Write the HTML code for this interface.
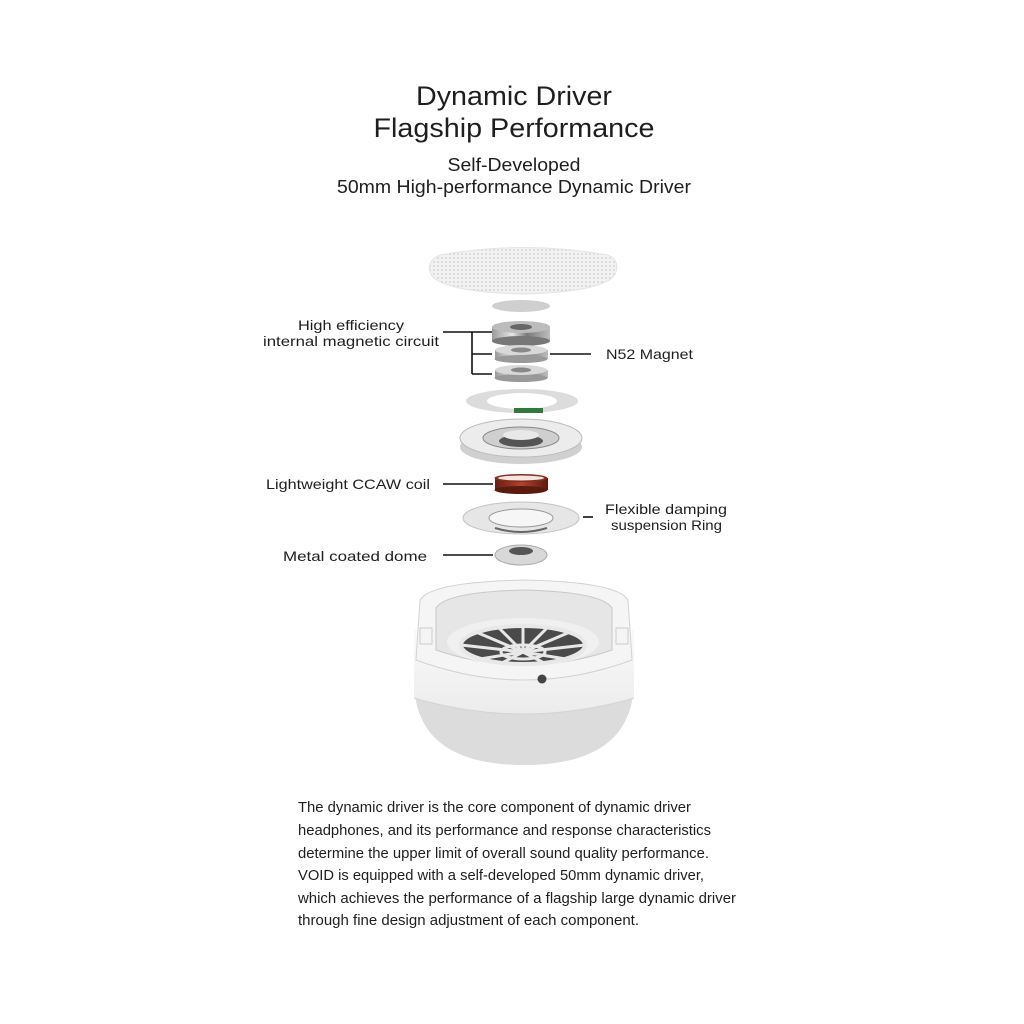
<!DOCTYPE html>
<html><head><meta charset="utf-8"><style>
html,body{margin:0;padding:0;background:#fff}
svg{display:block}
text{font-family:"Liberation Sans",sans-serif;fill:#1e1e1e}
</style></head><body>
<svg width="1024" height="1024" viewBox="0 0 1024 1024" xmlns="http://www.w3.org/2000/svg">
<defs>
<pattern id="dots" width="4" height="4" patternUnits="userSpaceOnUse"><rect width="4" height="4" fill="#f2f2f2"/><circle cx="2" cy="2" r="1" fill="#d6d6d6"/></pattern>
<linearGradient id="metal" x1="0" x2="1"><stop offset="0" stop-color="#9a9a9a"/><stop offset=".35" stop-color="#e6e6e6"/><stop offset=".6" stop-color="#7a7a7a"/><stop offset="1" stop-color="#bdbdbd"/></linearGradient>
<linearGradient id="red" x1="0" x2="1"><stop offset="0" stop-color="#6a1d12"/><stop offset=".5" stop-color="#b0432e"/><stop offset="1" stop-color="#5a1a10"/></linearGradient>
<linearGradient id="cup" x1="0" y1="0" x2="0" y2="1"><stop offset="0" stop-color="#fafafa"/><stop offset="1" stop-color="#ececec"/></linearGradient>
</defs>
<rect width="1024" height="1024" fill="#fff"/>

<text x="514" y="105" font-size="27" text-anchor="middle" textLength="196" lengthAdjust="spacingAndGlyphs">Dynamic Driver</text>
<text x="514" y="137" font-size="27" text-anchor="middle" textLength="281" lengthAdjust="spacingAndGlyphs">Flagship Performance</text>
<text x="514" y="171" font-size="18" text-anchor="middle" textLength="133" lengthAdjust="spacingAndGlyphs">Self-Developed</text>
<text x="514" y="193" font-size="18" text-anchor="middle" textLength="354" lengthAdjust="spacingAndGlyphs">50mm High-performance Dynamic Driver</text>

<!-- grille -->
<path d="M440 255 Q523 240 608 255 Q622 262 614 276 Q600 292 523 294 Q446 292 432 276 Q424 262 440 255Z" fill="url(#dots)" stroke="#e4e4e4"/>
<ellipse cx="521" cy="306" rx="29" ry="6" fill="#cfcfcf"/>
<!-- magnet 1 -->
<rect x="492" y="327" width="58" height="14" fill="url(#metal)"/>
<ellipse cx="521" cy="341" rx="29" ry="5" fill="#777"/>
<ellipse cx="521" cy="327" rx="29" ry="6" fill="#bcbcbc"/>
<ellipse cx="521" cy="327" rx="11" ry="3" fill="#666"/>
<!-- magnet 2 -->
<rect x="495" y="350" width="53" height="9" fill="url(#metal)"/>
<ellipse cx="521" cy="359" rx="26.5" ry="4" fill="#999"/>
<ellipse cx="521" cy="350" rx="26" ry="5" fill="#d8d8d8"/>
<ellipse cx="521" cy="350" rx="10" ry="2.5" fill="#888"/>
<!-- magnet 3 -->
<rect x="495" y="370" width="53" height="8" fill="url(#metal)"/>
<ellipse cx="521" cy="378" rx="26.5" ry="4" fill="#999"/>
<ellipse cx="521" cy="370" rx="26" ry="5" fill="#d8d8d8"/>
<ellipse cx="521" cy="370" rx="10" ry="2.5" fill="#888"/>
<!-- C ring -->
<ellipse cx="522" cy="401" rx="56" ry="12" fill="#dcdcdc"/>
<ellipse cx="522" cy="401" rx="35" ry="8" fill="#fff"/>
<rect x="514" y="408" width="29" height="5" fill="#2f7a3a"/>
<!-- frame -->
<ellipse cx="521" cy="447" rx="61" ry="17" fill="#d0d0d0"/>
<ellipse cx="521" cy="438" rx="61" ry="19" fill="#ececec" stroke="#bbb"/>
<ellipse cx="521" cy="438" rx="38" ry="11" fill="#cfcfcf" stroke="#888"/>
<ellipse cx="521" cy="441" rx="22" ry="6" fill="#555"/>
<ellipse cx="521" cy="435" rx="18" ry="5" fill="#e8e8e8"/>
<!-- coil -->
<rect x="495" y="478" width="53" height="12" fill="url(#red)"/>
<ellipse cx="521" cy="490" rx="26.5" ry="4" fill="#5a1a10"/>
<ellipse cx="521" cy="478" rx="26.5" ry="4" fill="#8a2e20"/>
<ellipse cx="521" cy="478" rx="23" ry="2.5" fill="#f3e6e3"/>
<!-- suspension -->
<ellipse cx="521" cy="518" rx="58" ry="16" fill="#e6e6e6" stroke="#c4c4c4"/>
<ellipse cx="521" cy="518" rx="32" ry="9" fill="#f6f6f6" stroke="#999"/>
<path d="M495 528 Q521 536 547 528" stroke="#666" stroke-width="2" fill="none"/>
<!-- dome -->
<ellipse cx="521" cy="555" rx="26" ry="10" fill="#d8d8d8" stroke="#aaa"/>
<ellipse cx="521" cy="551" rx="12" ry="4" fill="#555"/>
<!-- housing -->
<path d="M414 680 Q414 765 524 765 Q634 765 634 680 L634 660 L414 660Z" fill="#dcdcdc"/>
<path d="M414 630 L414 698 Q524 730 634 698 L634 630Z" fill="url(#cup)"/>
<path d="M414 698 Q524 730 634 698" stroke="#d4d4d4" fill="none"/>
<path d="M420 600 Q430 582 524 580 Q618 582 628 600 L632 660 Q524 700 416 660Z" fill="#f5f5f5" stroke="#d2d2d2"/>
<path d="M436 608 Q446 592 524 590 Q602 592 612 608 L612 650 Q524 680 436 650Z" fill="#e6e6e6" stroke="#c8c8c8"/>
<ellipse cx="523" cy="642" rx="76" ry="24" fill="#f0f0f0"/>
<ellipse cx="523" cy="645" rx="62" ry="19" fill="#4a4a4a"/>
<g stroke="#e8e8e8" stroke-width="3">
<line x1="523" y1="652" x2="461" y2="645"/><line x1="523" y1="652" x2="585" y2="645"/>
<line x1="523" y1="652" x2="476" y2="632"/><line x1="523" y1="652" x2="570" y2="632"/>
<line x1="523" y1="652" x2="498" y2="627"/><line x1="523" y1="652" x2="548" y2="627"/>
<line x1="523" y1="652" x2="523" y2="626"/><line x1="523" y1="652" x2="474" y2="660"/>
<line x1="523" y1="652" x2="572" y2="660"/><line x1="523" y1="652" x2="500" y2="664"/><line x1="523" y1="652" x2="546" y2="664"/>
</g>
<ellipse cx="523" cy="652" rx="22" ry="7" fill="none" stroke="#e8e8e8" stroke-width="3"/>
<ellipse cx="523" cy="645" rx="62" ry="19" fill="none" stroke="#e8e8e8" stroke-width="4"/>
<rect x="420" y="628" width="12" height="16" fill="#f4f4f4" stroke="#ccc"/>
<rect x="616" y="628" width="12" height="16" fill="#f4f4f4" stroke="#ccc"/>
<circle cx="542" cy="679" r="4.5" fill="#444"/>

<!-- connectors -->
<g stroke="#111" stroke-width="1.6" fill="none">
<path d="M443 332 H492 M472 332 V374 M472 354 H492 M472 374 H492"/>
<path d="M550 354 H591"/>
<path d="M443 484 H493"/>
<path d="M583 517 H593"/>
<path d="M443 555 H493"/>
</g>

<g font-size="14">
<text x="351" y="330" text-anchor="middle" textLength="106" lengthAdjust="spacingAndGlyphs">High efficiency</text>
<text x="351" y="346" text-anchor="middle" textLength="176" lengthAdjust="spacingAndGlyphs">internal magnetic circuit</text>
<text x="606" y="359" textLength="87" lengthAdjust="spacingAndGlyphs">N52 Magnet</text>
<text x="266" y="489" textLength="164" lengthAdjust="spacingAndGlyphs">Lightweight CCAW coil</text>
<text x="605" y="514" textLength="122" lengthAdjust="spacingAndGlyphs">Flexible damping</text>
<text x="611" y="530" textLength="111" lengthAdjust="spacingAndGlyphs">suspension Ring</text>
<text x="283" y="561" textLength="144" lengthAdjust="spacingAndGlyphs">Metal coated dome</text>
</g>

<g font-size="14.5">
<text x="298" y="812" textLength="393" lengthAdjust="spacingAndGlyphs">The dynamic driver is the core component of dynamic driver</text>
<text x="298" y="835" textLength="413" lengthAdjust="spacingAndGlyphs">headphones, and its performance and response characteristics</text>
<text x="298" y="858" textLength="411" lengthAdjust="spacingAndGlyphs">determine the upper limit of overall sound quality performance.</text>
<text x="298" y="880" textLength="406" lengthAdjust="spacingAndGlyphs">VOID is equipped with a self-developed 50mm dynamic driver,</text>
<text x="298" y="903" textLength="438" lengthAdjust="spacingAndGlyphs">which achieves the performance of a flagship large dynamic driver</text>
<text x="298" y="925" textLength="341" lengthAdjust="spacingAndGlyphs">through fine design adjustment of each component.</text>
</g>
</svg>
</body></html>
